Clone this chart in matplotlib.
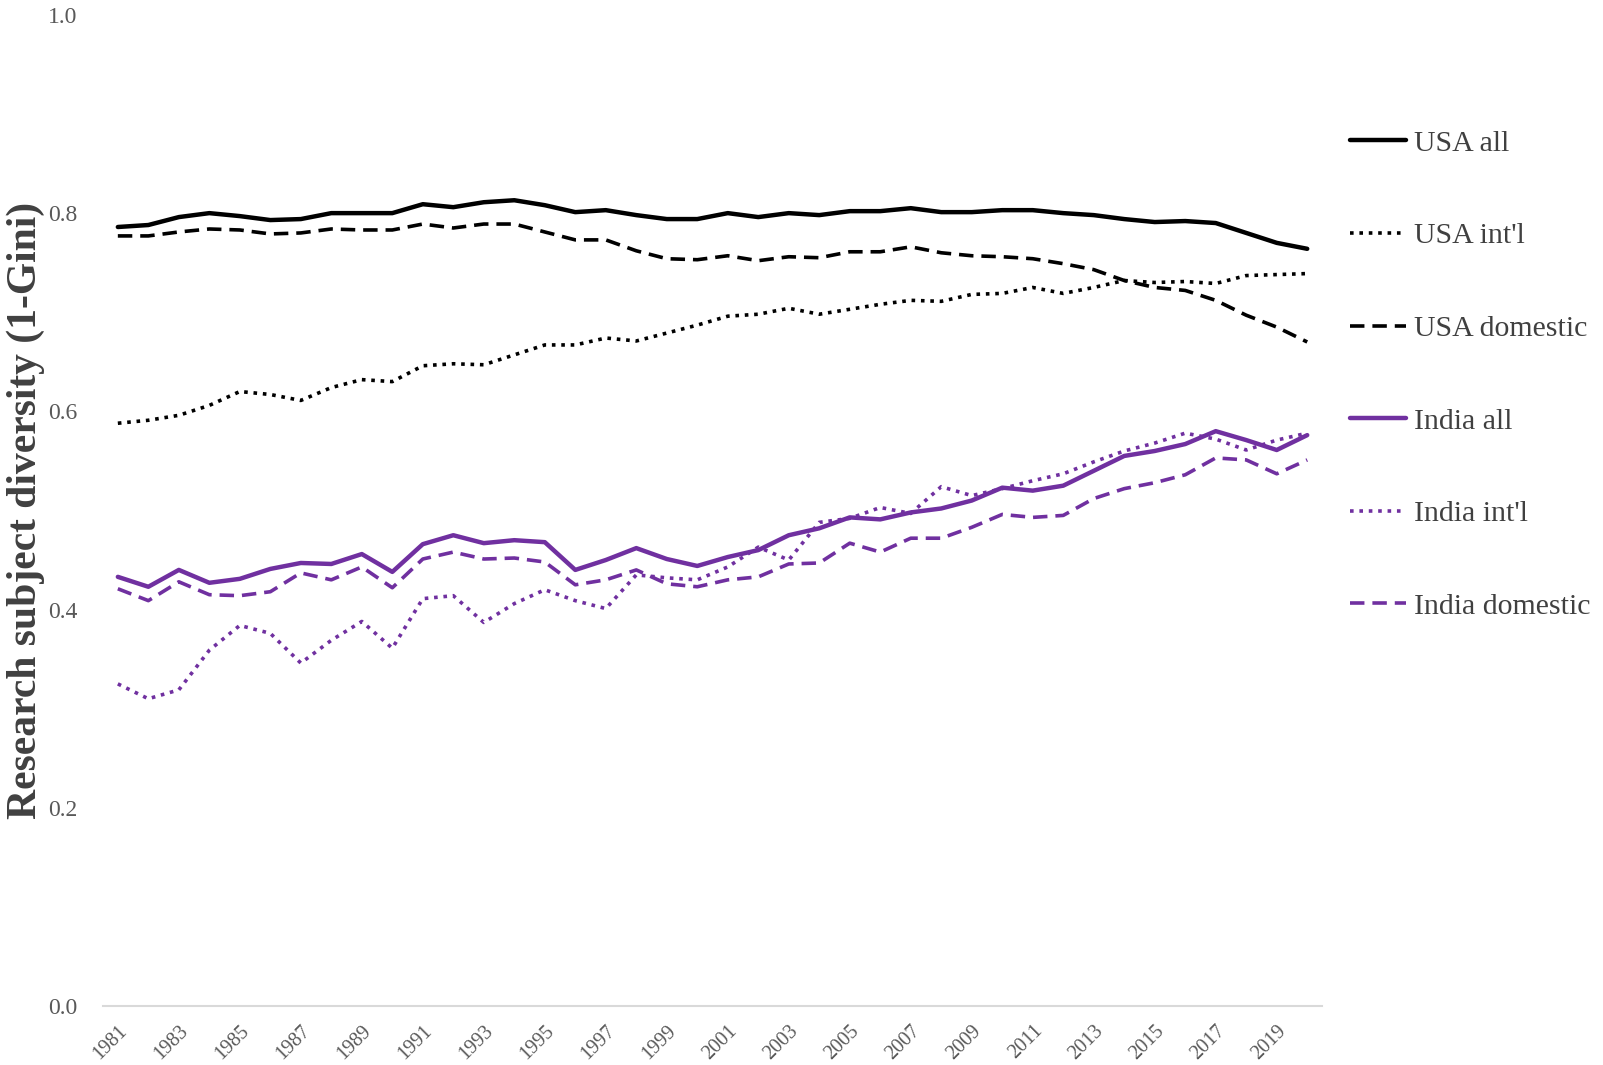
import matplotlib
matplotlib.use("Agg")
import matplotlib.pyplot as plt
import numpy as np

years = list(range(1981, 2021))

usa_all = [0.786, 0.788, 0.796, 0.800, 0.797, 0.793, 0.794, 0.800, 0.800, 0.800,
           0.809, 0.806, 0.811, 0.813, 0.808, 0.801, 0.803, 0.798, 0.794, 0.794,
           0.800, 0.796, 0.800, 0.798, 0.802, 0.802, 0.805, 0.801, 0.801, 0.803,
           0.803, 0.800, 0.798, 0.794, 0.791, 0.792, 0.790, 0.780, 0.770, 0.764]
usa_intl = [0.588, 0.591, 0.596, 0.606, 0.620, 0.617, 0.611, 0.624, 0.632, 0.630,
            0.646, 0.648, 0.647, 0.657, 0.667, 0.667, 0.674, 0.671, 0.679, 0.687,
            0.696, 0.698, 0.704, 0.698, 0.703, 0.708, 0.712, 0.711, 0.718, 0.719,
            0.725, 0.719, 0.725, 0.732, 0.730, 0.731, 0.729, 0.737, 0.738, 0.739]
usa_dom = [0.777, 0.777, 0.781, 0.784, 0.783, 0.779, 0.780, 0.784, 0.783, 0.783,
           0.789, 0.785, 0.789, 0.789, 0.781, 0.773, 0.773, 0.762, 0.754, 0.753,
           0.757, 0.752, 0.756, 0.755, 0.761, 0.761, 0.766, 0.760, 0.757, 0.756,
           0.754, 0.749, 0.743, 0.732, 0.725, 0.722, 0.712, 0.697, 0.685, 0.670]
india_all = [0.433, 0.423, 0.440, 0.427, 0.431, 0.441, 0.447, 0.446, 0.456, 0.438,
             0.466, 0.475, 0.467, 0.470, 0.468, 0.440, 0.450, 0.462, 0.451, 0.444,
             0.453, 0.460, 0.475, 0.482, 0.493, 0.491, 0.498, 0.502, 0.510, 0.523,
             0.520, 0.525, 0.540, 0.555, 0.560, 0.567, 0.580, 0.571, 0.561, 0.576]
india_intl = [0.325, 0.310, 0.319, 0.359, 0.384, 0.376, 0.346, 0.369, 0.388, 0.361,
              0.411, 0.414, 0.387, 0.406, 0.420, 0.409, 0.401, 0.435, 0.432, 0.430,
              0.443, 0.463, 0.450, 0.488, 0.492, 0.503, 0.497, 0.524, 0.515, 0.522,
              0.530, 0.537, 0.549, 0.560, 0.568, 0.578, 0.572, 0.561, 0.571, 0.578]
india_dom = [0.421, 0.409, 0.428, 0.415, 0.414, 0.418, 0.437, 0.430, 0.443, 0.422,
             0.451, 0.458, 0.451, 0.452, 0.448, 0.425, 0.430, 0.440, 0.426, 0.423,
             0.430, 0.433, 0.446, 0.447, 0.467, 0.458, 0.472, 0.472, 0.483, 0.496,
             0.493, 0.495, 0.512, 0.522, 0.528, 0.536, 0.553, 0.551, 0.537, 0.551]

xtick_years = list(range(1981, 2021, 2))
ytick_vals = [0.0, 0.2, 0.4, 0.6, 0.8, 1.0]

PURPLE = "#7030A0"
SERIF = ["Liberation Serif", "DejaVu Serif"]

fig = plt.figure(figsize=(16.03, 10.65), dpi=100)
ax = fig.add_axes([0.064, 0.0554, 0.761, 0.9306])

dash = (0, (4.0, 2.2))
dot = (0, (1.0, 1.6))
ax.plot(years, usa_all, color="black", lw=3.2, ls="-", label="USA all", solid_capstyle="round")
ax.plot(years, usa_intl, color="black", lw=2.6, ls=dot, label="USA int'l")
ax.plot(years, usa_dom, color="black", lw=2.6, ls=dash, label="USA domestic")
ax.plot(years, india_all, color=PURPLE, lw=3.2, ls="-", label="India all", solid_capstyle="round")
ax.plot(years, india_intl, color=PURPLE, lw=2.6, ls=dot, label="India int'l")
ax.plot(years, india_dom, color=PURPLE, lw=2.6, ls=dash, label="India domestic")

ax.set_xlim(1980.5, 2020.5)
ax.set_ylim(0, 1.0)
ax.set_yticks(ytick_vals)
ax.set_yticklabels([f"{v:.1f}" for v in ytick_vals], family=SERIF, fontsize=17, color="#595959")
ax.set_xticks(xtick_years)
ax.set_xticklabels([str(y) for y in xtick_years], family=SERIF, fontsize=14.5,
                   color="#595959", rotation=45, ha="right", va="top", rotation_mode="anchor")
ax.tick_params(axis="both", length=0)
ax.tick_params(axis="y", pad=18)
ax.tick_params(axis="x", pad=11)
for s in ["top", "right", "left"]:
    ax.spines[s].set_visible(False)
ax.spines["bottom"].set_color("#d9d9d9")
ax.spines["bottom"].set_linewidth(1.5)

ax.set_ylabel("Research subject diversity (1-Gini)", family=SERIF, fontsize=30,
              fontweight="bold", color="#404040", labelpad=2)

leg = ax.legend(loc="upper left", bbox_to_anchor=(0.842, 0.878), bbox_transform=fig.transFigure,
                frameon=False, prop={"family": SERIF, "size": 21.5}, labelspacing=2.2,
                handlelength=1.9, handletextpad=0.25, borderaxespad=0, borderpad=0)
for t in leg.get_texts():
    t.set_color("#404040")

fig.savefig("out.png", dpi=100, facecolor="white")
